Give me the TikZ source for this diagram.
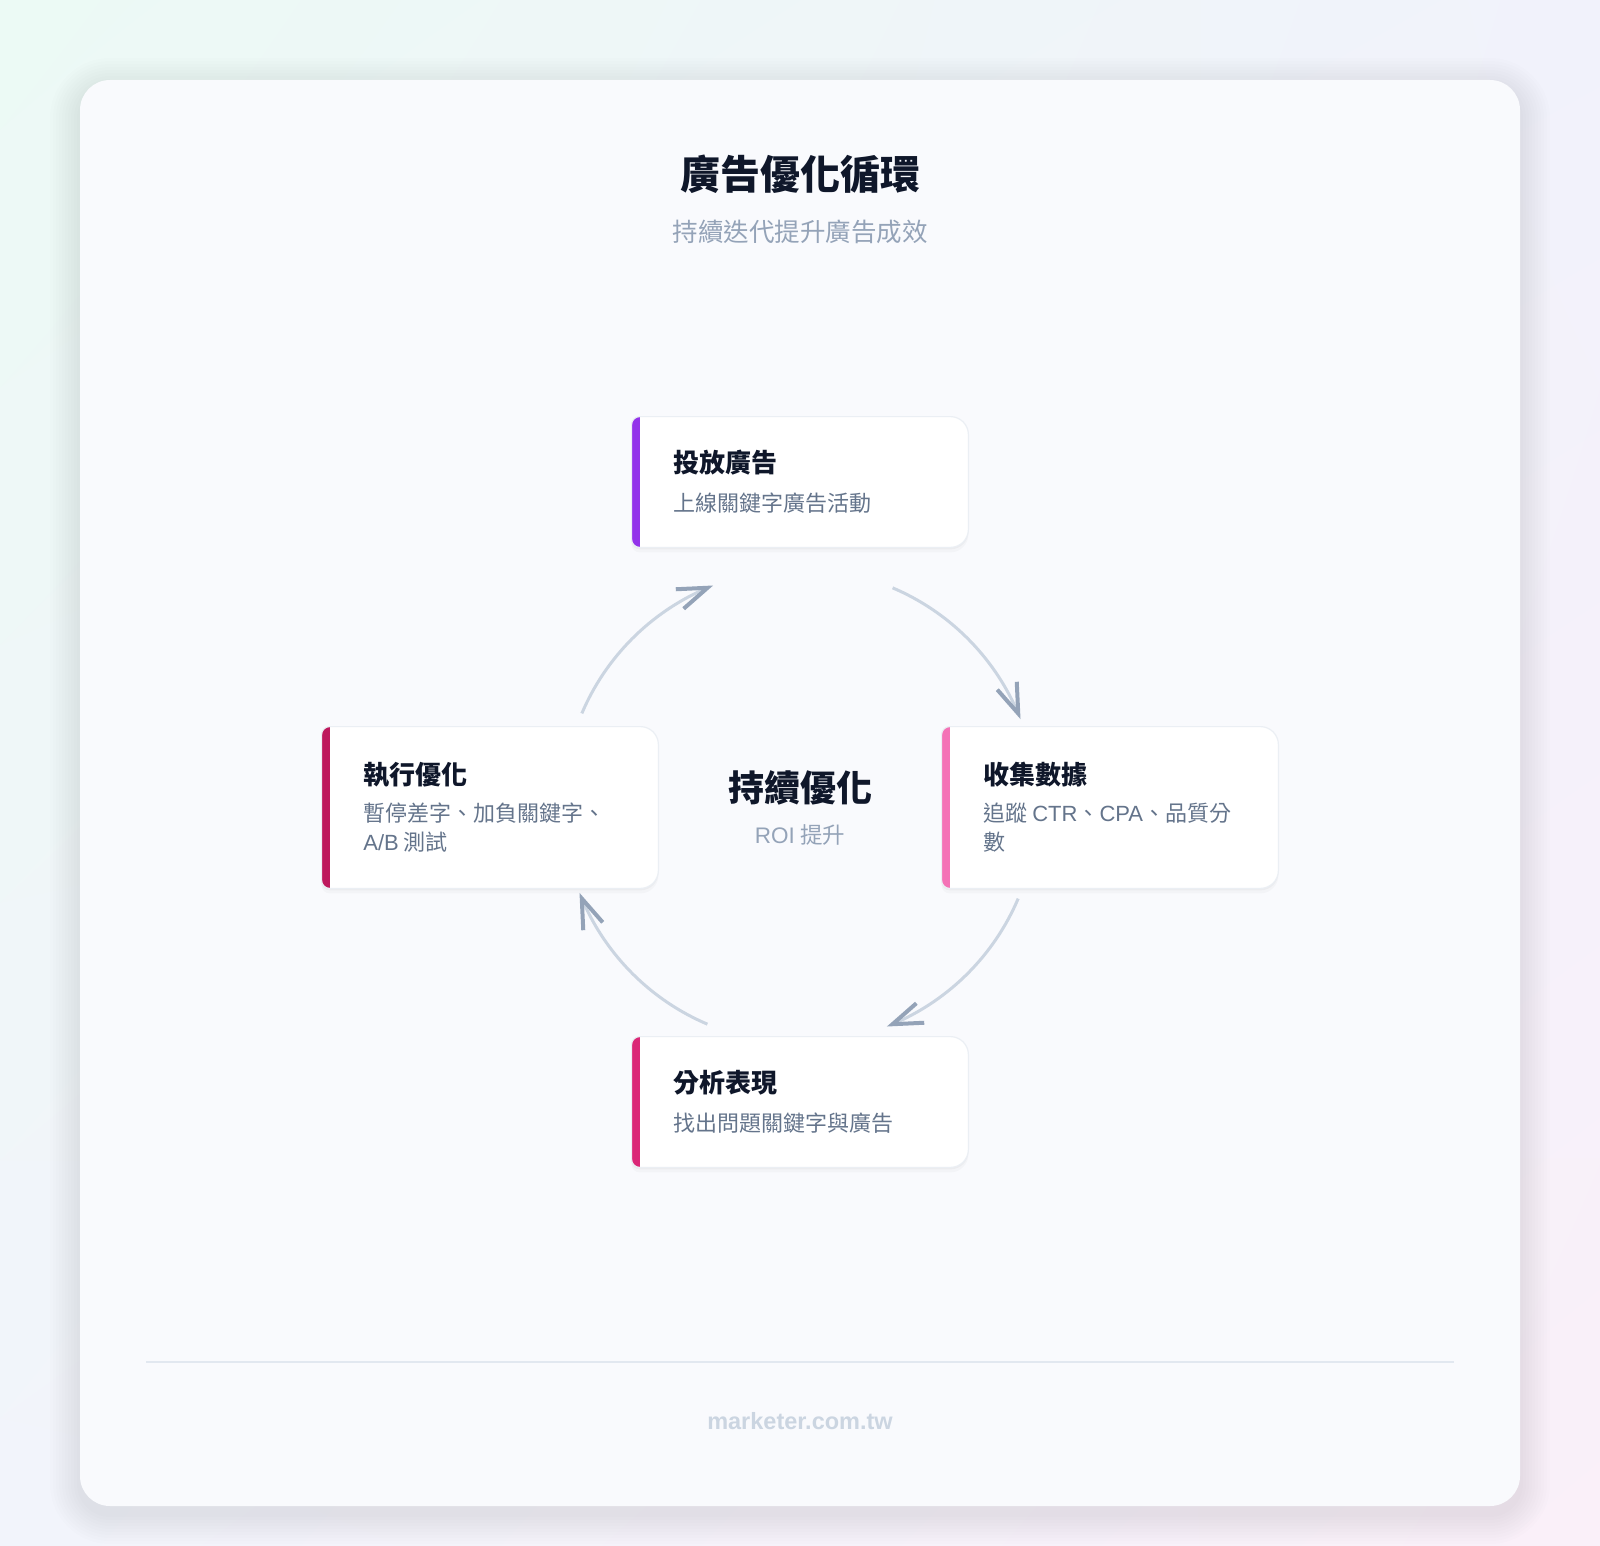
\documentclass[tikz,border=0pt]{standalone}
\usepackage{fontspec}
\setmainfont{Noto Sans CJK TC}
\newfontfamily\lat{Liberation Sans}
\usetikzlibrary{arrows.meta,bending,shadings,calc}
\definecolor{ink}{HTML}{0F172A}
\definecolor{muted}{HTML}{94A3B8}
\definecolor{desc}{HTML}{64748B}
\definecolor{footc}{HTML}{CBD5E1}
\definecolor{arcline}{HTML}{CBD5E1}
\definecolor{arrowc}{HTML}{94A3B8}
\definecolor{boxline}{HTML}{EBEFF4}
\definecolor{divc}{HTML}{E2E8F0}
\definecolor{cardc}{HTML}{F9FAFD}
\definecolor{barA}{HTML}{9333EA}
\definecolor{barB}{HTML}{F472B6}
\definecolor{barC}{HTML}{DB2777}
\definecolor{barD}{HTML}{BE185D}
\definecolor{bgtl}{HTML}{ECFAF5}
\definecolor{bgtr}{HTML}{F1F2FB}
\definecolor{bgbl}{HTML}{F2F4FB}
\definecolor{bgbr}{HTML}{FAF0F9}
\newcommand\cardpath[1]{([xshift=4pt]#1.north west) -- ([xshift=-9pt]#1.north east) arc[start angle=90,end angle=0,radius=9pt] -- ([yshift=9pt]#1.south east) arc[start angle=0,end angle=-90,radius=9pt] -- ([xshift=4pt]#1.south west) arc[start angle=270,end angle=180,radius=4pt] -- ([yshift=-4pt]#1.north west) arc[start angle=180,end angle=90,radius=4pt] -- cycle}
\newcommand\stepcard[2]{%
  \fill[black, opacity=0.025, transform canvas={yshift=-2.5pt}] \cardpath{#1};
  \fill[black, opacity=0.03, transform canvas={yshift=-1pt}] \cardpath{#1};
  \fill[white] \cardpath{#1};
  \begin{scope}
    \clip \cardpath{#1};
    \fill[#2] ([xshift=-1pt]#1.north west) rectangle ([xshift=4pt]#1.south west);
  \end{scope}
  \draw[boxline, line width=0.6pt] \cardpath{#1};
}
\tikzset{
  cardslot/.style={rectangle, draw=none, fill=none, minimum width=168pt, inner sep=0pt},
  ttl/.style={anchor=west, inner sep=0pt, text=ink, font=\fontsize{13pt}{15pt}\selectfont\bfseries},
  dsc/.style={anchor=west, inner sep=0pt, text=desc, align=left, font=\fontsize{11pt}{14.5pt}\selectfont},
  flow/.style={draw=arcline, line width=1.5pt, -{Straight Barb[length=15pt, width=10.5pt, line width=2pt, color=arrowc]}}
}
\begin{document}
\begin{tikzpicture}[x=0.5pt,y=-0.5pt]
\useasboundingbox (0,0) rectangle (1600,1546);
% background
\shade[upper left=bgtl, upper right=bgtr, lower left=bgbl, lower right=bgbr] (0,0) rectangle (1600,1546);
% card shadow
\foreach \i in {1,...,10}{
  \fill[black, opacity=0.006, rounded corners={15pt+\i*1.5pt}] (80-\i*3,88-\i*3) rectangle (1520+\i*3,1514+\i*3);
}
\fill[cardc, rounded corners=15pt] (80,80) rectangle (1520,1506);
% title
\node[inner sep=0pt, text=ink, font=\fontsize{20pt}{24pt}\selectfont\bfseries] (title) at (800,174) {廣告優化循環};
\node[inner sep=0pt, text=muted, font=\fontsize{12.75pt}{15pt}\selectfont] (subtitle) at (800,232) {持續迭代提升廣告成效};
% boxes
\node[cardslot, minimum height=65pt] (put) at (800,482) {};
\node[cardslot, minimum height=80.5pt] (collect) at (1110,807.5) {};
\node[cardslot, minimum height=65pt] (analyze) at (800,1102) {};
\node[cardslot, minimum height=80.5pt] (execute) at (490,807.5) {};
\stepcard{put}{barA}
\stepcard{collect}{barB}
\stepcard{analyze}{barC}
\stepcard{execute}{barD}
% box texts
\node[ttl] (putT) at (673,463) {投放廣告};
\node[dsc] (putD) at (673,503) {上線關鍵字廣告活動};
\node[ttl] (colT) at (983,775) {收集數據};
\node[dsc] (colD) at (983,827.5) {追蹤 {\lat CTR}、{\lat CPA}、品質分\\數};
\node[ttl] (anaT) at (673,1083) {分析表現};
\node[dsc] (anaD) at (673,1123) {找出問題關鍵字與廣告};
\node[ttl] (exeT) at (363,775) {執行優化};
\node[dsc] (exeD) at (363,827.5) {暫停差字、加負關鍵字、\\{\lat A/B} 測試};
% center
\node[inner sep=0pt, text=ink, font=\fontsize{18pt}{22pt}\selectfont\bfseries] (centerT) at (800,788) {持續優化};
\node[inner sep=0pt, text=muted, font=\fontsize{11.25pt}{14pt}\selectfont] (centerS) at (800,835) {{\lat ROI} 提升};
% cycle arcs
\coordinate (c) at (800,806);
\coordinate (s1) at ($(c)+(157:118.5pt)$);
\coordinate (s2) at ($(c)+(67:118.5pt)$);
\coordinate (s3) at ($(c)+(-23:118.5pt)$);
\coordinate (s4) at ($(c)+(-113:118.5pt)$);
\draw[flow] (s1) arc[start angle=157, end angle=111.5, radius=118.5pt];
\draw[flow] (s2) arc[start angle=67, end angle=21.5, radius=118.5pt];
\draw[flow] (s3) arc[start angle=-23, end angle=-68.5, radius=118.5pt];
\draw[flow] (s4) arc[start angle=-113, end angle=-158.5, radius=118.5pt];
% divider and footer
\coordinate (dl) at (146,1362);
\coordinate (dr) at (1454,1362);
\draw[divc, line width=0.75pt] (dl) -- (dr);
\node[inner sep=0pt, text=footc, font=\fontsize{11.75pt}{14pt}\selectfont\lat\bfseries] (foot) at (800,1421) {marketer.com.tw};
\end{tikzpicture}
\end{document}
